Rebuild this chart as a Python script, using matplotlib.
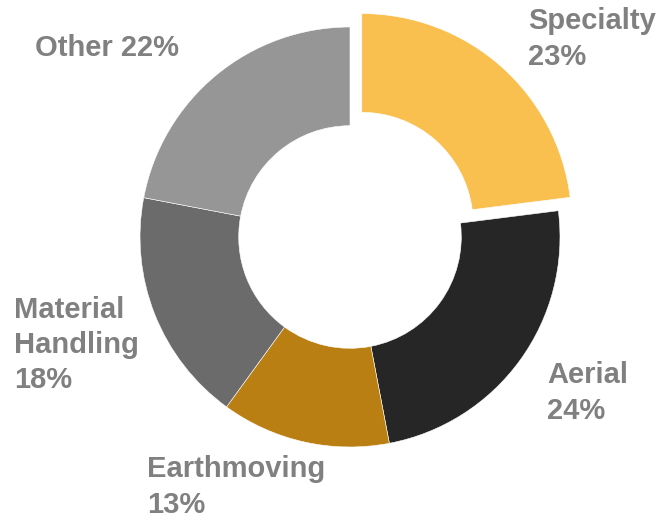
import numpy as np
import matplotlib.pyplot as plt

plt.rcParams['font.family'] = ['Liberation Sans', 'DejaVu Sans']

segments = ['Specialty', 'Aerial', 'Earthmoving', 'Material\nHandling', 'Other']
shares = [23, 24, 13, 18, 22]
colors = ['#F9BF4F', '#262626', '#B97F12', '#6B6B6B', '#969696']
explode = [0.085, 0, 0, 0, 0]

W, H = 659, 520
cx, cy, R = 350, 237, 210  # pixel center / radius of the donut

fig = plt.figure(figsize=(W / 100, H / 100), dpi=100)
ax = fig.add_axes([0, 0, 1, 1])
ax.pie(shares, colors=colors, explode=explode, startangle=90, counterclock=False,
       radius=1, wedgeprops=dict(width=0.47, edgecolor='white', linewidth=0.4))
ax.set_aspect('equal')
ax.set_xlim(-cx / R, (W - cx) / R)
ax.set_ylim(-(H - cy) / R, cy / R)
ax.axis('off')

# label anchors (left edge, vertical middle) in pixels
label_pos = [(528, 39), (547, 393), (147, 487), (14, 345), (35, 48)]
for name, val, (px, py) in zip(segments, shares, label_pos):
    sep = '\n' if name != 'Other' else ' '
    ax.text(px / W, 1 - py / H, f'{name}{sep}{val}%', transform=ax.transAxes,
            ha='left', va='center', fontsize=21, fontweight='bold',
            color='#808080', linespacing=1.32)

fig.savefig('out.png', dpi=100)
